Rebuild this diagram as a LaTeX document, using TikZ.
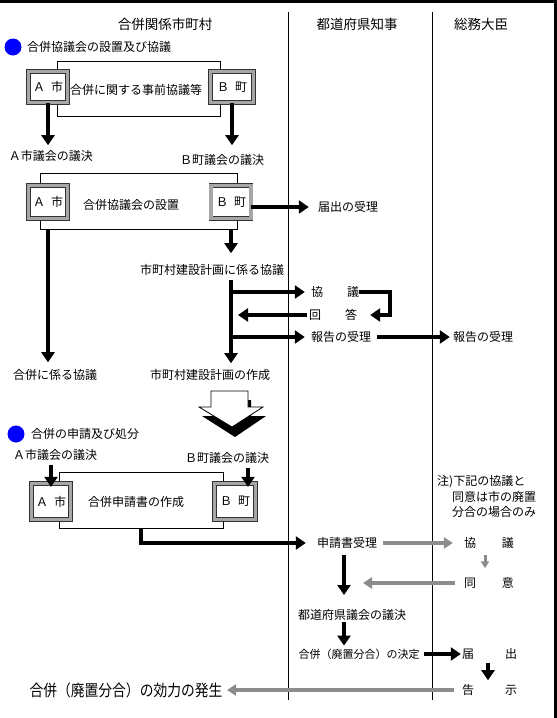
\documentclass[tikz,border=0pt]{standalone}
\usepackage{fontspec}
\usepackage{graphicx}
\setmainfont{Noto Sans CJK JP}
\usetikzlibrary{arrows.meta}
\begin{document}
\begin{tikzpicture}[x=1pt,y=-1pt,
 t/.style={inner sep=0pt,font=\fontsize{12}{14}\selectfont},
 hd/.style={inner sep=0pt,font=\fontsize{13.5}{15}\selectfont},
 grp/.style={draw,line width=1pt,inner sep=0pt},
 hbox/.style={draw=black!80,line width=0.5pt,double=black!35,double distance=3.8pt,fill=white,inner sep=0pt,font=\fontsize{12}{14}\selectfont},
 arr/.style={line width=4.5pt,-{Triangle[length=10pt,width=13pt]}},
 garr/.style={draw=black!45,line width=4pt,-{Triangle[length=9pt,width=11pt]}},
 sgarr/.style={draw=black!45,line width=3pt,-{Triangle[length=7pt,width=8pt]}},
 bullet/.style={circle,fill=blue,inner sep=0pt,minimum size=17pt}]
\useasboundingbox (0,0) rectangle (557,718);
% frame
\fill (0,0) rectangle (557,2.5);
\fill (554,0) rectangle (557,718);
\draw[line width=1pt] (288,12) -- (288,700);
\draw[line width=1pt] (432,12) -- (432,700);
% headers
\node[hd] (h1) at (165,24) {合併関係市町村};
\node[hd] (h2) at (357,24) {都道府県知事};
\node[hd] (h3) at (481,24) {総務大臣};
% section 1
\node[bullet] (bu1) at (13,47) {};
\node[t,anchor=west] (s1) at (27,47) {合併協議会の設置及び協議};
% group 1
\node[grp,minimum width=163pt,minimum height=55pt] (g1) at (138.5,88.5) {};
\node[t] (t1) at (136,90) {合併に関する事前協議等};
\node[hbox,minimum width=39pt,minimum height=31pt] (a1) at (48,87) {\raisebox{-3pt}{Ａ\hspace{6pt}市}};
\node[hbox,minimum width=43pt,minimum height=31pt] (b1) at (232,87) {\raisebox{-3pt}{Ｂ\hspace{6pt}町}};
\node[t] (a1v) at (51,156) {Ａ市議会の議決};
\node[t] (b1v) at (222,160) {Ｂ町議会の議決};
\draw[arr,shorten >=5pt] (a1.south) -- (a1.south |- a1v.north);
\draw[arr,shorten >=5pt] (b1.south) -- (b1.south |- a1v.north);
% group 2
\node[grp,minimum width=197pt,minimum height=56pt] (g2) at (138.5,201) {};
\node[t] (t2) at (131,205) {合併協議会の設置};
\node[hbox,minimum width=39pt,minimum height=33pt] (a2) at (48,202) {\raisebox{-3pt}{Ａ\hspace{6pt}市}};
\node[hbox,minimum width=40pt,minimum height=33pt] (b2) at (231,202) {\raisebox{-3pt}{Ｂ\hspace{6pt}町}};
\node[t] (r1) at (348,207) {届出の受理};
\draw[arr,shorten >=9pt] (b2.east |- r1) -- (r1.west);
\node[t] (gw) at (55,375) {合併に係る協議};
\draw[arr,shorten >=7pt] (g2.south -| a2) -- (a2 |- gw.north);
\node[t] (k1) at (212,270) {市町村建設計画に係る協議};
\draw[arr,shorten >=11pt] (g2.south -| b2) -- (b2 |- k1.north);
\node[t] (k2) at (210,375) {市町村建設計画の作成};
\draw[arr,shorten <=4pt,shorten >=6pt] (b2 |- k1.south) -- (b2 |- k2.north);
\node[t] (kg) at (335,292) {協\hspace{24pt}議};
\node[t] (ka) at (333,315) {回\hspace{24pt}答};
\node[t] (rp1) at (341,337) {報告の受理};
\node[t] (rp2) at (483,337) {報告の受理};
\draw[arr,shorten >=6pt] (b2 |- kg) -- (kg.west);
\draw[arr] (kg.east) -- ([xshift=31pt]kg.east) |- ([xshift=13pt]ka.east);
\draw[arr,shorten <=2pt,shorten >=7pt] (ka.west) -- (b2 |- ka);
\draw[arr,shorten >=6pt] (b2 |- rp1) -- (rp1.west);
\draw[arr,shorten <=6pt,shorten >=3pt] (rp1.east) -- (rp2.west);
% big hollow arrow
\fill[black] (214,400) -- (251,400) -- (251,416) -- (266,416) -- (235,437) -- (202,416) -- (214,416) -- cycle;
\draw[fill=white,line width=0.8pt] (211,391) -- (248,391) -- (248,407) -- (263,407) -- (232,427) -- (199,407) -- (211,407) -- cycle;
% section 2
\node[bullet] (bu2) at (16,434) {};
\node[t,anchor=west] (s2) at (31,434) {合併の申請及び処分};
\node[t] (c1v) at (55,455) {Ａ市議会の議決};
\node[t] (c2v) at (227,458) {Ｂ町議会の議決};
\node[grp,minimum width=164pt,minimum height=56pt] (g3) at (141,500) {};
\node[t] (t3) at (136,502) {合併申請書の作成};
\node[hbox,minimum width=39pt,minimum height=36pt] (a3) at (51,501.5) {\raisebox{-2pt}{Ａ\hspace{6pt}市}};
\node[hbox,minimum width=41pt,minimum height=36pt] (b3) at (235,501.5) {\raisebox{-2pt}{Ｂ\hspace{6pt}町}};
\draw[arr,shorten <=4pt] (c1v.south -| a3) -- ([yshift=-3.6pt]a3.north);
\draw[arr,shorten <=4pt] ([xshift=13pt]b3.north |- c2v.south) -- ([xshift=13pt,yshift=-3.6pt]b3.north);
\node[t] (sj) at (347,543) {申請書受理};
\draw[arr,shorten >=11pt] (g3.south) |- (sj.west);
% note
\node[t,anchor=west] (n1) at (437,482) {注)下記の協議と};
\node[t,anchor=west] (n2) at (452,497) {同意は市の廃置};
\node[t,anchor=west] (n3) at (452,512) {分合の場合のみ};
\node[t] (ky) at (489,543) {協\hspace{26pt}議};
\node[t] (dy) at (489,583) {同\hspace{26pt}意};
\draw[garr,shorten <=6pt,shorten >=11pt] (sj.east) -- (ky.west);
\draw[sgarr,shorten <=6pt,shorten >=9pt] ([xshift=-4pt]ky.south) -- ([xshift=-4pt]dy.north);
\coordinate (dd) at (344,595);
\draw[arr,shorten <=6pt] (sj.south -| dd) -- (dd);
\draw[garr,shorten <=9pt] (dy.west) -- ([xshift=19pt]dd |- dy);
\node[t] (tk) at (352,615) {都道府県議会の議決};
\node[inner sep=0pt,font=\fontsize{11}{13}\selectfont] (kt) at (359,654) {合併（廃置分合）の決定};
\draw[arr,shorten <=1pt,shorten >=3pt] (tk.south -| dd) -- (kt.north -| dd);
\node[t] (tj) at (489.5,654) {届\hspace{31pt}出};
\node[t] (kj) at (489.5,690) {告\hspace{31pt}示};
\draw[arr,shorten <=4.5pt,shorten >=1pt] (kt.east) -- (tj.west);
\draw[arr,shorten <=3pt,shorten >=4pt] ([xshift=-1.5pt]tj.south) -- ([xshift=-1.5pt]kj.north);
\node[inner sep=0pt,font=\fontsize{16}{18}\selectfont] (big) at (126,690) {\scalebox{0.86}[1]{合併（廃置分合）の効力の発生}};
\draw[garr,shorten <=8pt,shorten >=4.5pt] (kj.west) -- (big.east);
\end{tikzpicture}
\end{document}
